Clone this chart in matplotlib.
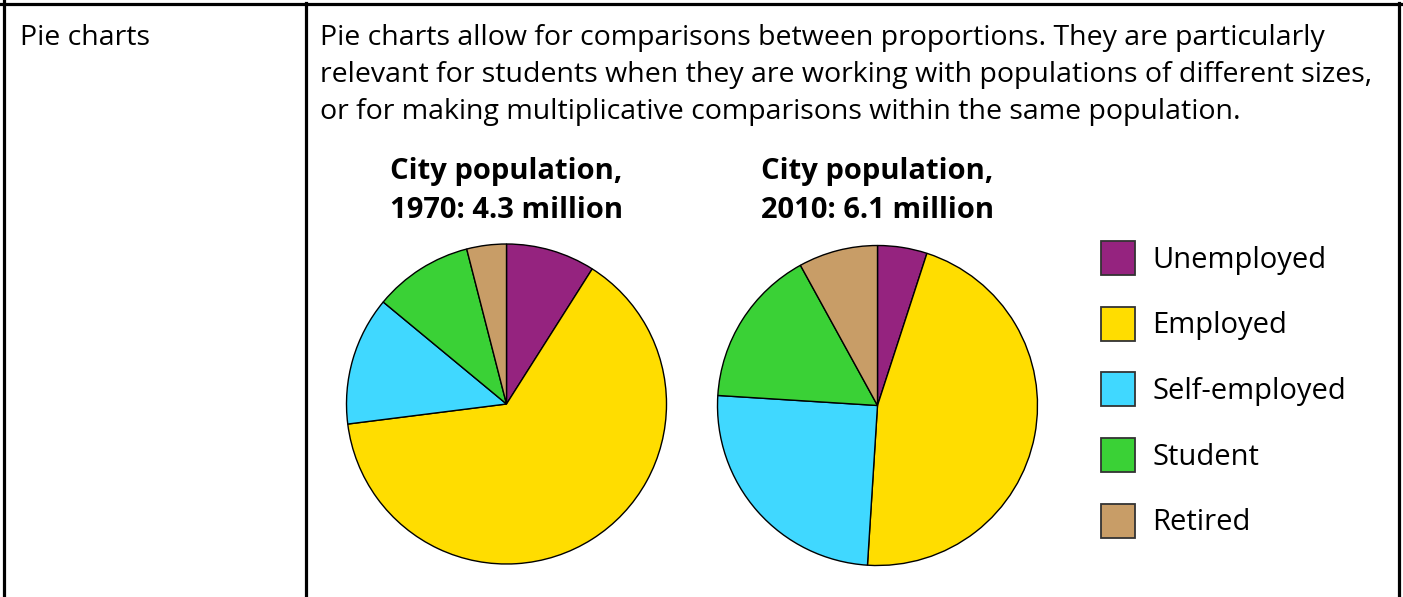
import matplotlib
matplotlib.use("Agg")
import matplotlib.pyplot as plt
from matplotlib.patches import Rectangle
from matplotlib.lines import Line2D

# ---- data ----
categories = ["Unemployed", "Employed", "Self-employed", "Student", "Retired"]
share_1970 = [9, 64, 13, 10, 4]
share_2010 = [5, 46, 25, 16, 8]
colors = ["#95237F", "#FFDD00", "#40D8FF", "#3AD136", "#C89D67"]
title_1970 = "City population,\n1970: 4.3 million"
title_2010 = "City population,\n2010: 6.1 million"
row_label = "Pie charts"
body_lines = [
    "Pie charts allow for comparisons between proportions. They are particularly",
    "relevant for students when they are working with populations of different sizes,",
    "or for making multiplicative comparisons within the same population.",
]

W, H = 1403, 597
fig = plt.figure(figsize=(W / 100, H / 100), dpi=100)
fig.patch.set_facecolor("white")
FONT = "Open Sans"
BODY_FS = 20.5
TITLE_FS = 21.0
LEG_FS = 21.0

def px(x, y):
    return x / W, 1 - y / H

# table borders
lw = 2.3
for (x0, y0, x1, y1) in [(0, 3.5, W, 3.5), (4, 0, 4, H), (306, 3, 306, H), (1399, 3, 1399, H)]:
    a, b = px(x0, y0)
    c, d = px(x1, y1)
    fig.add_artist(Line2D([a, c], [b, d], color="black", lw=lw, transform=fig.transFigure))

# texts
fig.text(*px(20, 45), row_label, fontsize=BODY_FS, family=FONT, va="baseline", ha="left")
for i, line in enumerate(body_lines):
    fig.text(*px(320, 45 + 37 * i), line, fontsize=BODY_FS, family=FONT, va="baseline", ha="left")

def draw_pie(cx, cy, r, values, title):
    l, b = px(cx - r, cy + r)
    ax = fig.add_axes([l, b, 2 * r / W, 2 * r / H])
    ax.pie(values, colors=colors, startangle=90, counterclock=False,
           wedgeprops=dict(edgecolor="black", linewidth=1.0))
    ax.set_xlim(-1, 1)
    ax.set_ylim(-1, 1)
    ax.set_aspect("auto")
    ax.axis("off")
    t1, t2 = title.split("\n")
    fig.text(*px(cx, 179), t1, fontsize=TITLE_FS, family=FONT,
             fontweight="bold", ha="center", va="baseline")
    fig.text(*px(cx, 218), t2, fontsize=TITLE_FS, family=FONT,
             fontweight="bold", ha="center", va="baseline")

draw_pie(506.5, 404, 160, share_1970, title_1970)
draw_pie(877.5, 405.5, 160, share_2010, title_2010)

# legend
ys = [258, 323.5, 389, 455, 520.5]
for cat, col, y in zip(categories, colors, ys):
    l, b = px(1101, y + 17)
    fig.add_artist(Rectangle((l, b), 34 / W, 34 / H, transform=fig.transFigure,
                             facecolor=col, edgecolor="#333333", lw=1.3))
    fig.text(*px(1152, y + 10), cat, fontsize=LEG_FS, family=FONT, ha="left", va="baseline")

fig.savefig("out.png", dpi=100)
